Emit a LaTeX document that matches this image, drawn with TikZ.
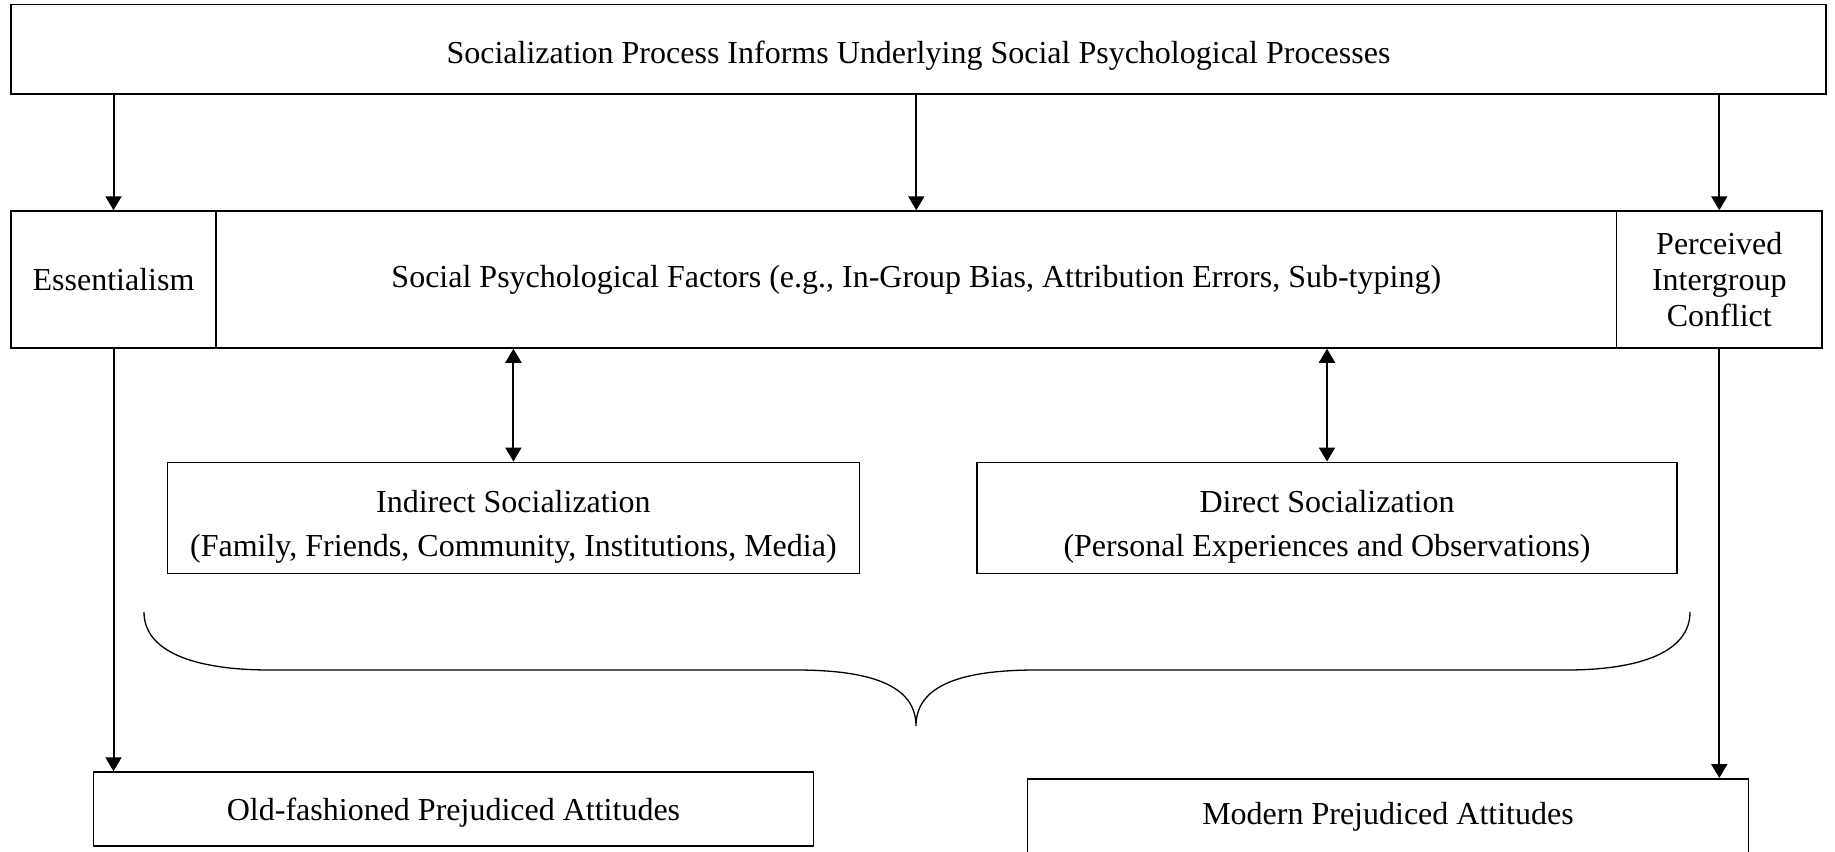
\documentclass[tikz,border=0pt]{standalone}
\usepackage{fontspec}
\setmainfont{Liberation Serif}
\usetikzlibrary{arrows.meta}

\begin{document}
\begin{tikzpicture}[x=1pt,y=-1pt,
    >={Triangle[length=14pt,width=16pt]},
    box/.style={draw,line width=1.5pt,inner sep=0pt,align=center,
      font=\fontsize{32}{36.5}\selectfont},
    socbox/.style={box,font=\fontsize{32}{44}\selectfont,text height=82pt,text depth=4pt},
    link/.style={line width=2pt}]
  \useasboundingbox (0,0) rectangle (1835,851);

  \node[box,minimum width=1815pt,minimum height=89.5pt,text height=37pt,text depth=8pt]
    (process) at (918.5,49.25)
    {Socialization Process Informs Underlying Social Psychological Processes};

  % middle row
  \node[box,minimum width=205pt,minimum height=137pt] (ess) at (113.5,279.5) {Essentialism};
  \node[box,minimum width=1400.7pt,minimum height=137pt] (factors) at (916.3,279.5)
    {Social Psychological Factors (e.g., In-Group Bias, Attribution Errors, Sub-typing)};
  \node[box,minimum width=205.3pt,minimum height=137pt,font=\fontsize{32}{36}\selectfont]
    (conflict) at (1719.3,279.5) {Perceived\\Intergroup\\Conflict};

  \node[socbox,minimum width=692pt,minimum height=111pt] (indirect) at (513.4,517.8)
    {Indirect Socialization\\(Family, Friends, Community, Institutions, Media)};
  \node[socbox,minimum width=700pt,minimum height=111pt] (direct) at (1327,517.8)
    {Direct Socialization\\(Personal Experiences and Observations)};

  \node[box,minimum width=719.7pt,minimum height=74pt,text height=30pt,text depth=8pt]
    (old) at (453.5,809) {Old-fashioned Prejudiced Attitudes};
  \node[box,anchor=north,minimum width=720.9pt,text height=46pt,text depth=56pt] (modern)
    at (1388,778) {Modern Prejudiced Attitudes};

  \draw[link,->] (ess.north |- process.south) -- (ess.north);
  \draw[link,->] (factors.north |- process.south) -- (factors.north);
  \draw[link,->] (conflict.north |- process.south) -- (conflict.north);
  \draw[link,<->] (indirect.north |- factors.south) -- (indirect.north);
  \draw[link,<->] (direct.north |- factors.south) -- (direct.north);
  \draw[link,->] (ess.south) -- (ess.south |- old.north);
  \draw[link,->] (conflict.south) -- (conflict.south |- modern.north);

  % brace
  \draw[line width=1.3pt] (144,612) .. controls (144,652) and (195,670) .. (270,670)
    -- (796,670) .. controls (870,670) and (916,685) .. (916,726)
    .. controls (916,685) and (962,670) .. (1036,670)
    -- (1566,670) .. controls (1640,670) and (1690,652) .. (1690,612);
\end{tikzpicture}
\end{document}
